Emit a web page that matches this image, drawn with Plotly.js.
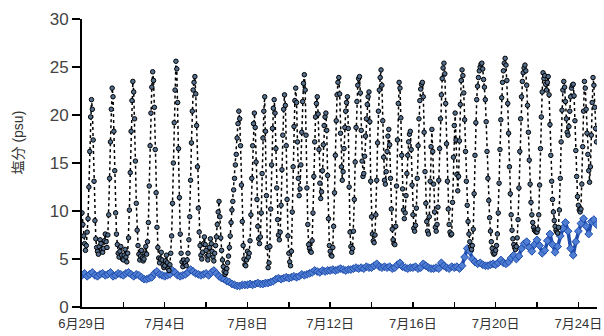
<!DOCTYPE html>
<html><head><meta charset="utf-8">
<script src="https://cdn.plot.ly/plotly-3.0.1.min.js"></script>
<style>html,body{margin:0;padding:0;background:#fff}#chart{width:604px;height:336px}</style>
</head><body><div id="chart"></div>
<script>
// Salinity (psu), hourly readings starting 6/29 00:00 (one row per day)
const salinityStepHours = 1;
const salinity = [
  9.8, 8.6, 7.4, 6.6, 5.9, 6.4, 7.8, 9.2, 12.5, 16.2, 19.8, 21.6, 20.6, 17.4, 13.1, 9.0, 7.1, 6.2, 5.8, 5.5, 6.3, 7.0, 6.6, 6.0,
  5.7, 6.1, 6.9, 7.6, 6.8, 6.2, 7.5, 9.6, 13.4, 17.2, 20.6, 22.8, 21.9, 18.3, 14.2, 9.8, 7.6, 6.5, 5.6, 5.2, 5.8, 6.3, 5.4, 5.0,
  4.9, 5.4, 6.0, 5.2, 4.7, 5.6, 7.2, 10.1, 14.0, 18.3, 21.5, 23.5, 22.4, 19.6, 15.2, 10.8, 8.0, 6.4, 5.5, 4.9, 5.3, 5.9, 5.1, 4.8,
  5.0, 5.6, 6.3, 5.5, 6.8, 8.8, 12.6, 16.8, 20.2, 22.9, 24.5, 23.6, 20.8, 16.4, 11.9, 8.3, 6.2, 5.1, 4.6, 5.0, 5.7, 4.9, 4.4, 4.1,
  4.3, 4.8, 5.4, 4.6, 4.0, 3.8, 4.4, 5.6, 7.4, 10.8, 15.0, 19.2, 22.6, 25.6, 24.8, 21.3, 16.5, 11.4, 7.6, 5.6, 4.7, 4.2, 4.9, 4.5,
  4.6, 4.3, 4.9, 5.6, 7.0, 9.4, 13.2, 17.1, 20.4, 22.6, 23.4, 24.0, 22.2, 18.9, 14.6, 10.3, 7.8, 6.4, 5.4, 5.0, 5.7, 6.6, 7.3, 6.5,
  5.9, 5.3, 4.9, 5.4, 6.2, 7.1, 6.6, 5.8, 5.2, 4.8, 5.6, 6.4, 7.3, 8.6, 9.9, 11.0, 9.4, 7.2, 5.9, 4.9, 4.2, 3.7, 3.4, 3.6,
  4.0, 4.6, 5.3, 6.2, 7.4, 8.8, 10.1, 11.0, 12.2, 13.4, 14.8, 15.9, 17.6, 19.1, 20.4, 19.6, 16.8, 12.7, 8.9, 6.4, 5.0, 4.4, 4.3, 4.9,
  5.8, 5.2, 5.6, 6.9, 9.6, 13.4, 16.8, 19.1, 20.2, 18.7, 15.1, 11.2, 8.4, 7.1, 6.6, 7.3, 9.8, 13.9, 17.6, 20.4, 21.9, 18.3, 11.6, 6.2,
  4.1, 4.6, 6.3, 10.2, 14.8, 18.6, 20.7, 21.6, 20.2, 16.5, 12.4, 9.1, 7.5, 7.0, 7.8, 10.6, 14.3, 17.9, 20.6, 22.1, 21.0, 16.8, 11.2, 7.4,
  5.6, 4.7, 4.3, 5.8, 9.9, 14.6, 18.8, 21.5, 22.8, 21.3, 17.2, 13.4, 11.6, 12.3, 14.8, 18.2, 21.4, 23.3, 24.2, 22.6, 17.9, 12.4, 8.6, 6.5,
  6.1, 5.8, 5.7, 6.9, 9.8, 13.6, 17.2, 19.8, 21.2, 21.9, 20.1, 16.4, 12.9, 11.3, 12.0, 14.2, 16.9, 18.9, 19.8, 20.2, 18.4, 13.7, 9.2, 6.4,
  5.8, 5.4, 5.3, 6.2, 8.4, 11.9, 15.8, 19.4, 22.1, 23.4, 23.9, 22.2, 18.1, 14.6, 13.2, 14.1, 16.5, 18.7, 20.4, 21.3, 21.9, 18.6, 12.5, 7.8,
  6.3, 5.7, 6.1, 7.9, 11.2, 15.1, 18.7, 21.4, 23.1, 23.8, 24.0, 22.3, 18.4, 15.2, 13.6, 13.9, 15.7, 17.8, 19.6, 21.1, 21.9, 22.4, 19.3, 13.1,
  9.4, 7.6, 6.9, 6.7, 7.5, 9.6, 13.2, 17.1, 20.4, 22.6, 23.9, 24.7, 23.1, 19.4, 15.6, 13.2, 12.8, 14.1, 16.2, 17.8, 18.5, 16.9, 13.4, 10.2,
  8.1, 7.0, 6.6, 6.5, 8.4, 12.6, 17.4, 21.2, 23.4, 22.8, 19.7, 15.8, 12.3, 10.1, 9.2, 9.8, 11.6, 13.9, 15.8, 17.2, 18.0, 18.3, 16.4, 12.7,
  9.6, 8.2, 7.9, 8.5, 10.3, 13.4, 16.8, 19.6, 21.5, 22.7, 23.2, 23.4, 21.9, 18.2, 14.1, 10.8, 8.9, 7.9, 7.6, 9.4, 13.1, 16.7, 18.5, 16.2,
  12.8, 9.9, 8.3, 7.9, 8.6, 10.4, 13.2, 16.5, 19.6, 22.1, 23.8, 24.9, 25.4, 24.3, 21.2, 17.0, 13.1, 10.2, 8.6, 7.8, 7.5, 7.6, 10.9, 15.6,
  18.9, 20.2, 17.4, 13.8, 12.1, 13.6, 17.3, 21.1, 23.6, 24.7, 24.1, 22.3, 19.5, 16.2, 13.1, 10.6, 8.9, 7.6, 6.8, 6.3, 6.0, 6.4, 8.1, 11.8,
  15.8, 19.2, 21.6, 23.0, 23.9, 24.6, 25.0, 25.3, 25.4, 24.8, 23.7, 22.9, 21.6, 19.3, 16.2, 13.4, 11.1, 9.3, 7.9, 6.8, 6.1, 5.7, 5.5, 5.6,
  5.9, 6.4, 7.6, 9.8, 12.9, 16.4, 19.5, 21.8, 23.4, 24.6, 25.4, 25.9, 25.2, 23.6, 21.2, 18.1, 14.6, 11.8, 9.6, 8.0, 7.1, 6.5, 6.2, 6.0,
  6.3, 7.2, 9.1, 12.4, 16.2, 19.6, 21.9, 23.5, 24.4, 24.9, 25.2, 24.6, 23.1, 21.0, 18.2, 15.3, 12.8, 10.9, 9.6, 8.8, 8.3, 8.0, 7.9, 7.8,
  7.8, 8.1, 9.6, 12.7, 16.5, 19.8, 22.4, 24.4, 23.8, 24.1, 23.2, 22.6, 23.4, 24.0, 22.1, 19.0, 15.8, 13.1, 11.2, 9.9, 9.0, 8.4, 8.0, 7.8,
  7.7, 8.3, 10.1, 13.4, 17.2, 20.5, 22.6, 23.5, 22.9, 21.4, 19.6, 18.2, 17.9, 18.8, 20.4, 21.9, 22.8, 23.1, 23.2, 22.0, 19.4, 16.3, 13.6, 11.5,
  10.6, 10.1, 9.9, 10.2, 12.8, 16.7, 20.4, 23.5, 22.8, 20.6, 18.1, 15.9, 14.2, 13.0, 14.6, 17.9, 21.3, 23.9, 23.1, 20.8, 18.6, 17.2
];

// Lower (blue) series, readings every 3 hours from 6/29 00:00 (one row per day)
const lowerStepHours = 3;
const lowerSalinity = [
  3.3, 3.5, 3.2, 3.4, 3.6, 3.3, 3.2, 3.4,
  3.5, 3.3, 3.4, 3.6, 3.2, 3.3, 3.5, 3.4,
  3.3, 3.5, 3.6, 3.4, 3.2, 3.4, 3.3, 3.1,
  2.9, 2.9, 3.0, 3.1, 3.5, 3.7, 3.4, 3.3,
  3.2, 3.3, 3.4, 3.8, 3.6, 3.3, 3.2, 3.3,
  3.4, 3.6, 3.9, 3.7, 3.5, 3.4, 3.3, 3.4,
  3.5, 3.3, 3.6, 3.8, 3.5, 3.2, 3.0, 2.9,
  2.7, 2.6, 2.4, 2.3, 2.2, 2.2, 2.3, 2.3,
  2.3, 2.4, 2.3, 2.4, 2.5, 2.4, 2.4, 2.5,
  2.5, 2.6, 2.7, 2.9, 3.0, 2.9, 3.0, 3.1,
  3.0, 3.1, 3.2, 3.1, 3.2, 3.4, 3.3, 3.4,
  3.5, 3.6, 3.8, 3.7, 3.6, 3.8, 3.7, 3.8,
  3.8, 3.9, 3.8, 3.9, 4.0, 3.9, 3.8, 3.9,
  3.9, 4.0, 4.1, 4.0, 4.1, 4.0, 4.2, 4.1,
  4.1, 4.3, 4.5, 4.2, 4.1, 4.2, 4.1, 4.2,
  4.0, 4.1, 4.4, 4.6, 4.2, 4.1, 4.0, 4.1,
  4.1, 4.2, 4.0, 4.1, 4.5, 4.3, 4.1, 4.0,
  4.0, 4.1, 4.0, 4.6, 4.3, 4.1, 4.0, 4.2,
  4.1, 4.2, 4.0, 4.3, 5.2, 6.1, 5.8, 5.0,
  4.7, 4.5, 4.6, 4.4, 4.3, 4.3, 4.4, 4.5,
  4.4, 4.6, 4.9, 4.6, 4.5, 4.7, 5.1, 5.4,
  5.0, 5.3, 6.1, 6.6, 6.8, 6.2, 5.8, 6.5,
  7.0, 6.4, 5.6, 5.9, 6.9, 7.6, 6.5, 5.7,
  6.3, 7.4, 8.2, 8.8, 7.9, 6.1, 5.4, 6.8,
  7.9, 8.7, 9.2, 8.4, 7.6, 8.9, 9.1, 8.6
];

const xTickDays = [0, 2, 4, 6, 8, 10, 12, 14, 16, 18, 20, 22, 24];
const xTickLabels = ['6月29日', '', '7月4日', '', '7月8日', '', '7月12日', '', '7月16日', '', '7月20日', '', '7月24日'];
const yTickValues = [0, 5, 10, 15, 20, 25, 30];
const yTitle = '塩分 (psu)';

const fontFamily = '"Liberation Sans", Arial, "Noto Sans CJK JP", sans-serif';
const xSal = salinity.map((_, i) => i * salinityStepHours / 24);
const xLow = lowerSalinity.map((_, i) => i * lowerStepHours / 24);

const traces = [
  {
    x: xLow, y: lowerSalinity, type: 'scatter', mode: 'lines+markers',
    line: {color: '#1f4cad', width: 3.5},
    marker: {symbol: 'diamond', size: 6, color: '#4f7ed3', line: {color: '#1f4cad', width: 1}},
    hoverinfo: 'skip'
  },
  {
    x: xSal, y: salinity, type: 'scatter', mode: 'lines+markers',
    line: {color: '#000', width: 1.5, dash: 'dot'},
    marker: {symbol: 'circle', size: 4.5, color: '#55708f', line: {color: '#000', width: 1}},
    hoverinfo: 'skip'
  }
];

const layout = {
  width: 604, height: 336,
  margin: {l: 82, r: 7, t: 19, b: 29},
  paper_bgcolor: '#fff', plot_bgcolor: '#fff',
  showlegend: false,
  font: {family: fontFamily, color: '#333'},
  xaxis: {
    range: [0, 24.9], tickvals: xTickDays, ticktext: xTickLabels,
    ticks: 'inside', ticklen: 5, tickwidth: 1.5, tickcolor: '#000',
    ticklabelstandoff: 3,
    showline: true, linecolor: '#000', linewidth: 2,
    showgrid: false, zeroline: false,
    tickfont: {size: 13, color: '#333', family: fontFamily}
  },
  yaxis: {
    range: [0, 30], tickvals: yTickValues,
    ticks: 'outside', ticklen: 8, tickwidth: 1.5, tickcolor: '#000',
    showline: true, linecolor: '#000', linewidth: 2,
    showgrid: false, zeroline: false,
    tickfont: {size: 17, color: '#444', family: fontFamily}
  },
  annotations: [{
    text: yTitle, xref: 'paper', yref: 'paper', x: -0.125, y: 0.57,
    xanchor: 'center', yanchor: 'middle', textangle: -90, showarrow: false,
    font: {size: 14, color: '#333', family: fontFamily}
  }]
};

Plotly.newPlot('chart', traces, layout, {staticPlot: true, displayModeBar: false});
</script>
</body></html>
